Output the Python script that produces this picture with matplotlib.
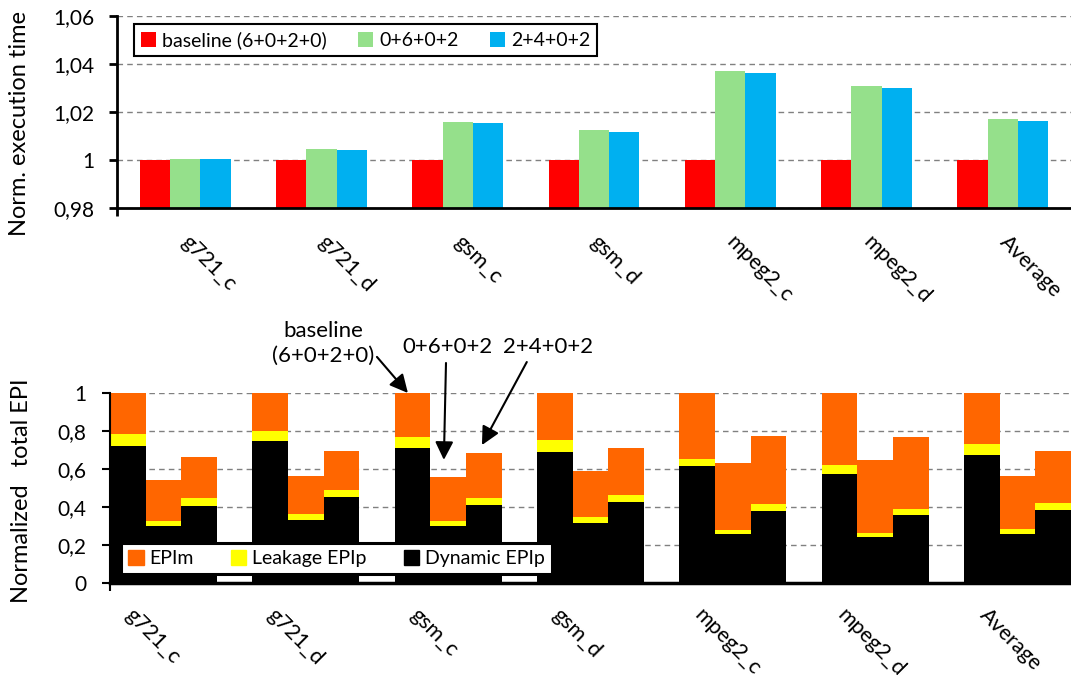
import matplotlib
matplotlib.use('Agg')
import matplotlib.pyplot as plt
from matplotlib.patches import Patch
from matplotlib.ticker import FuncFormatter, FixedLocator
import numpy as np

plt.rcParams['font.family'] = ['Lato', 'DejaVu Sans']

# ---- data ----
categories = ['g721_c', 'g721_d', 'gsm_c', 'gsm_d', 'mpeg2_c', 'mpeg2_d', 'Average']
configs = ['baseline (6+0+2+0)', '0+6+0+2', '2+4+0+2']

# normalized execution time
exec_base = [1.0, 1.0, 1.0, 1.0, 1.0, 1.0, 1.0]
exec_a = [1.0005, 1.0046, 1.0158, 1.0123, 1.0369, 1.0308, 1.0169]
exec_b = [1.0004, 1.0042, 1.0154, 1.0118, 1.0363, 1.0300, 1.0163]

# normalized EPI components (dynamic EPIp, leakage EPIp, EPIm)
dyn_base = [0.723, 0.746, 0.709, 0.688, 0.614, 0.574, 0.674]
leak_base = [0.063, 0.054, 0.061, 0.066, 0.040, 0.049, 0.056]
epim_base = [0.214, 0.200, 0.230, 0.246, 0.346, 0.377, 0.270]

dyn_a = [0.298, 0.333, 0.298, 0.314, 0.258, 0.242, 0.260]
leak_a = [0.030, 0.028, 0.030, 0.032, 0.023, 0.023, 0.026]
epim_a = [0.216, 0.202, 0.230, 0.243, 0.351, 0.382, 0.277]

dyn_b = [0.407, 0.451, 0.409, 0.426, 0.381, 0.358, 0.384]
leak_b = [0.039, 0.038, 0.040, 0.037, 0.035, 0.033, 0.039]
epim_b = [0.217, 0.204, 0.233, 0.249, 0.358, 0.379, 0.272]

exec_colors = ['#FF0000', '#95E08B', '#00B0F0']
epi_colors = {'EPIm': '#FF6600', 'Leakage EPIp': '#FFFF00', 'Dynamic EPIp': '#000000'}

FS = 15       # y tick labels
FS_X = 15.5   # rotated category labels
FS_LAB = 17   # axis titles
FS_ANN = 16   # callouts
W, H = 1071, 682


def comma_fmt(v, pos=None):
    return ('%g' % round(v, 4)).replace('.', ',')


fig = plt.figure(figsize=(W / 100, H / 100), dpi=100)

# ---------------- top: execution time ----------------
ax1 = fig.add_axes([117 / W, 1 - 208 / H, (W - 117) / W, 192 / H])
n = len(categories)
x = np.arange(n)
bw = 0.222
for j, (vals, col) in enumerate(zip([exec_base, exec_a, exec_b], exec_colors)):
    ax1.bar(x + (j - 1) * bw, np.array(vals) - 0.98, bw, bottom=0.98,
            color=col, linewidth=0, label=configs[j], zorder=2)
ax1.set_xlim(-0.5, n - 0.5)
ax1.set_ylim(0.98, 1.06)
ax1.set_yticks([0.98, 1.0, 1.02, 1.04, 1.06])
ax1.yaxis.set_major_formatter(FuncFormatter(comma_fmt))
ax1.yaxis.grid(True, linestyle=(0, (4, 3)), color='#808080', lw=1)
ax1.set_axisbelow(True)
for s in ['top', 'right']:
    ax1.spines[s].set_visible(False)
ax1.spines['left'].set_linewidth(2)
ax1.spines['bottom'].set_linewidth(2)
ax1.tick_params(axis='y', direction='out', length=6, width=2, pad=10, labelsize=FS)
ax1.set_xticks(x + 0.05)
ax1.set_xticklabels(categories, rotation=-45, ha='left', va='top',
                    rotation_mode='anchor', fontsize=FS_X)
ax1.tick_params(axis='x', length=0, pad=17)
ax1.xaxis.set_minor_locator(FixedLocator([-0.5]))
ax1.tick_params(axis='x', which='minor', length=6, width=2, direction='out')

leg1 = ax1.legend(loc='center', bbox_to_anchor=(365.5 / W, 1 - 40 / H),
                  bbox_transform=fig.transFigure, ncol=3, frameon=True,
                  fancybox=False, fontsize=14, handlelength=0.8,
                  handleheight=0.8, handletextpad=0.3, columnspacing=1.6,
                  borderpad=0.35)
leg1.get_frame().set_edgecolor('black')
leg1.get_frame().set_linewidth(1.5)
leg1.get_frame().set_alpha(1)

fig.text(20 / W, 1 - 124 / H, 'Norm. execution time', rotation=90,
         ha='center', va='center', fontsize=FS_LAB)

# ---------------- bottom: normalized EPI ----------------
ax2 = fig.add_axes([110 / W, 1 - 583 / H, (W - 110) / W, 190 / H])
sets = [(dyn_base, leak_base, epim_base), (dyn_a, leak_a, epim_a), (dyn_b, leak_b, epim_b)]
group_start = 4 * np.arange(n)
for j, (dyn, leak, epim) in enumerate(sets):
    xs = group_start + j
    dyn = np.array(dyn); leak = np.array(leak); epim = np.array(epim)
    ax2.bar(xs, dyn, 1, align='edge', color=epi_colors['Dynamic EPIp'], linewidth=0, zorder=2)
    ax2.bar(xs, leak, 1, bottom=dyn, align='edge', color=epi_colors['Leakage EPIp'], linewidth=0, zorder=2)
    ax2.bar(xs, epim, 1, bottom=dyn + leak, align='edge', color=epi_colors['EPIm'], linewidth=0, zorder=2)

ax2.set_xlim(0, 4 * n - 1)
ax2.set_ylim(0, 1)
ax2.set_yticks([0, 0.2, 0.4, 0.6, 0.8, 1.0])
ax2.yaxis.set_major_formatter(FuncFormatter(comma_fmt))
ax2.yaxis.grid(True, linestyle=(0, (4, 3)), color='#808080', lw=1)
ax2.set_axisbelow(True)
for s in ['top', 'right']:
    ax2.spines[s].set_visible(False)
ax2.spines['left'].set_linewidth(1.5)
ax2.spines['bottom'].set_linewidth(2.5)
ax2.spines['bottom'].set_zorder(3)
ax2.tick_params(axis='y', direction='out', length=6, width=1.5, pad=11, labelsize=FS)
ax2.set_xticks(group_start + 0.72)
ax2.set_xticklabels(categories, rotation=-45, ha='left', va='top',
                    rotation_mode='anchor', fontsize=FS_X)
ax2.tick_params(axis='x', length=0, pad=16)
ax2.xaxis.set_minor_locator(FixedLocator([0]))
ax2.tick_params(axis='x', which='minor', length=6, width=1.5, direction='out')

handles = [Patch(color=epi_colors[k], label=k) for k in ['EPIm', 'Leakage EPIp', 'Dynamic EPIp']]
leg2 = ax2.legend(handles=handles, loc='center', bbox_to_anchor=(336.5 / W, 1 - 558.5 / H),
                  bbox_transform=fig.transFigure, ncol=3, frameon=True,
                  fancybox=False, fontsize=14, handlelength=0.8,
                  handleheight=0.8, handletextpad=0.3, columnspacing=1.9,
                  borderpad=0.35)
leg2.get_frame().set_edgecolor('black')
leg2.get_frame().set_linewidth(2.2)
leg2.get_frame().set_alpha(1)
leg2.set_zorder(5)

fig.text(22 / W, 1 - 491 / H, 'Normalized   total EPI', rotation=90,
         ha='center', va='center', fontsize=FS_LAB)

# callouts pointing at the gsm_c group
gi = categories.index('gsm_c')
g0 = group_start[gi]
tot_base = dyn_base[gi] + leak_base[gi] + epim_base[gi]
tot_a = dyn_a[gi] + leak_a[gi] + epim_a[gi]
tot_b = dyn_b[gi] + leak_b[gi] + epim_b[gi]
ap = dict(arrowstyle='-|>,head_length=1.1,head_width=0.55', color='black',
          lw=1.5, shrinkA=0, shrinkB=0)
ax2.text(g0 - 2.02, 1.263, 'baseline\n(6+0+2+0)', ha='center', va='center',
         fontsize=FS_ANN, linespacing=1.3)
ax2.annotate('', xy=(g0 + 0.37, tot_base), xytext=(g0 - 0.5, 1.19),
             arrowprops=ap, annotation_clip=False)
ax2.text(g0 + 1.47, 1.242, '0+6+0+2', ha='center', va='center', fontsize=FS_ANN)
ax2.annotate('', xy=(g0 + 1.38, tot_a + 0.09), xytext=(g0 + 1.44, 1.158),
             arrowprops=ap, annotation_clip=False)
ax2.text(g0 + 4.3, 1.242, '2+4+0+2', ha='center', va='center', fontsize=FS_ANN)
ax2.annotate('', xy=(g0 + 2.45, tot_b + 0.044), xytext=(g0 + 3.71, 1.163),
             arrowprops=ap, annotation_clip=False)

fig.savefig('out.png', dpi=100)
